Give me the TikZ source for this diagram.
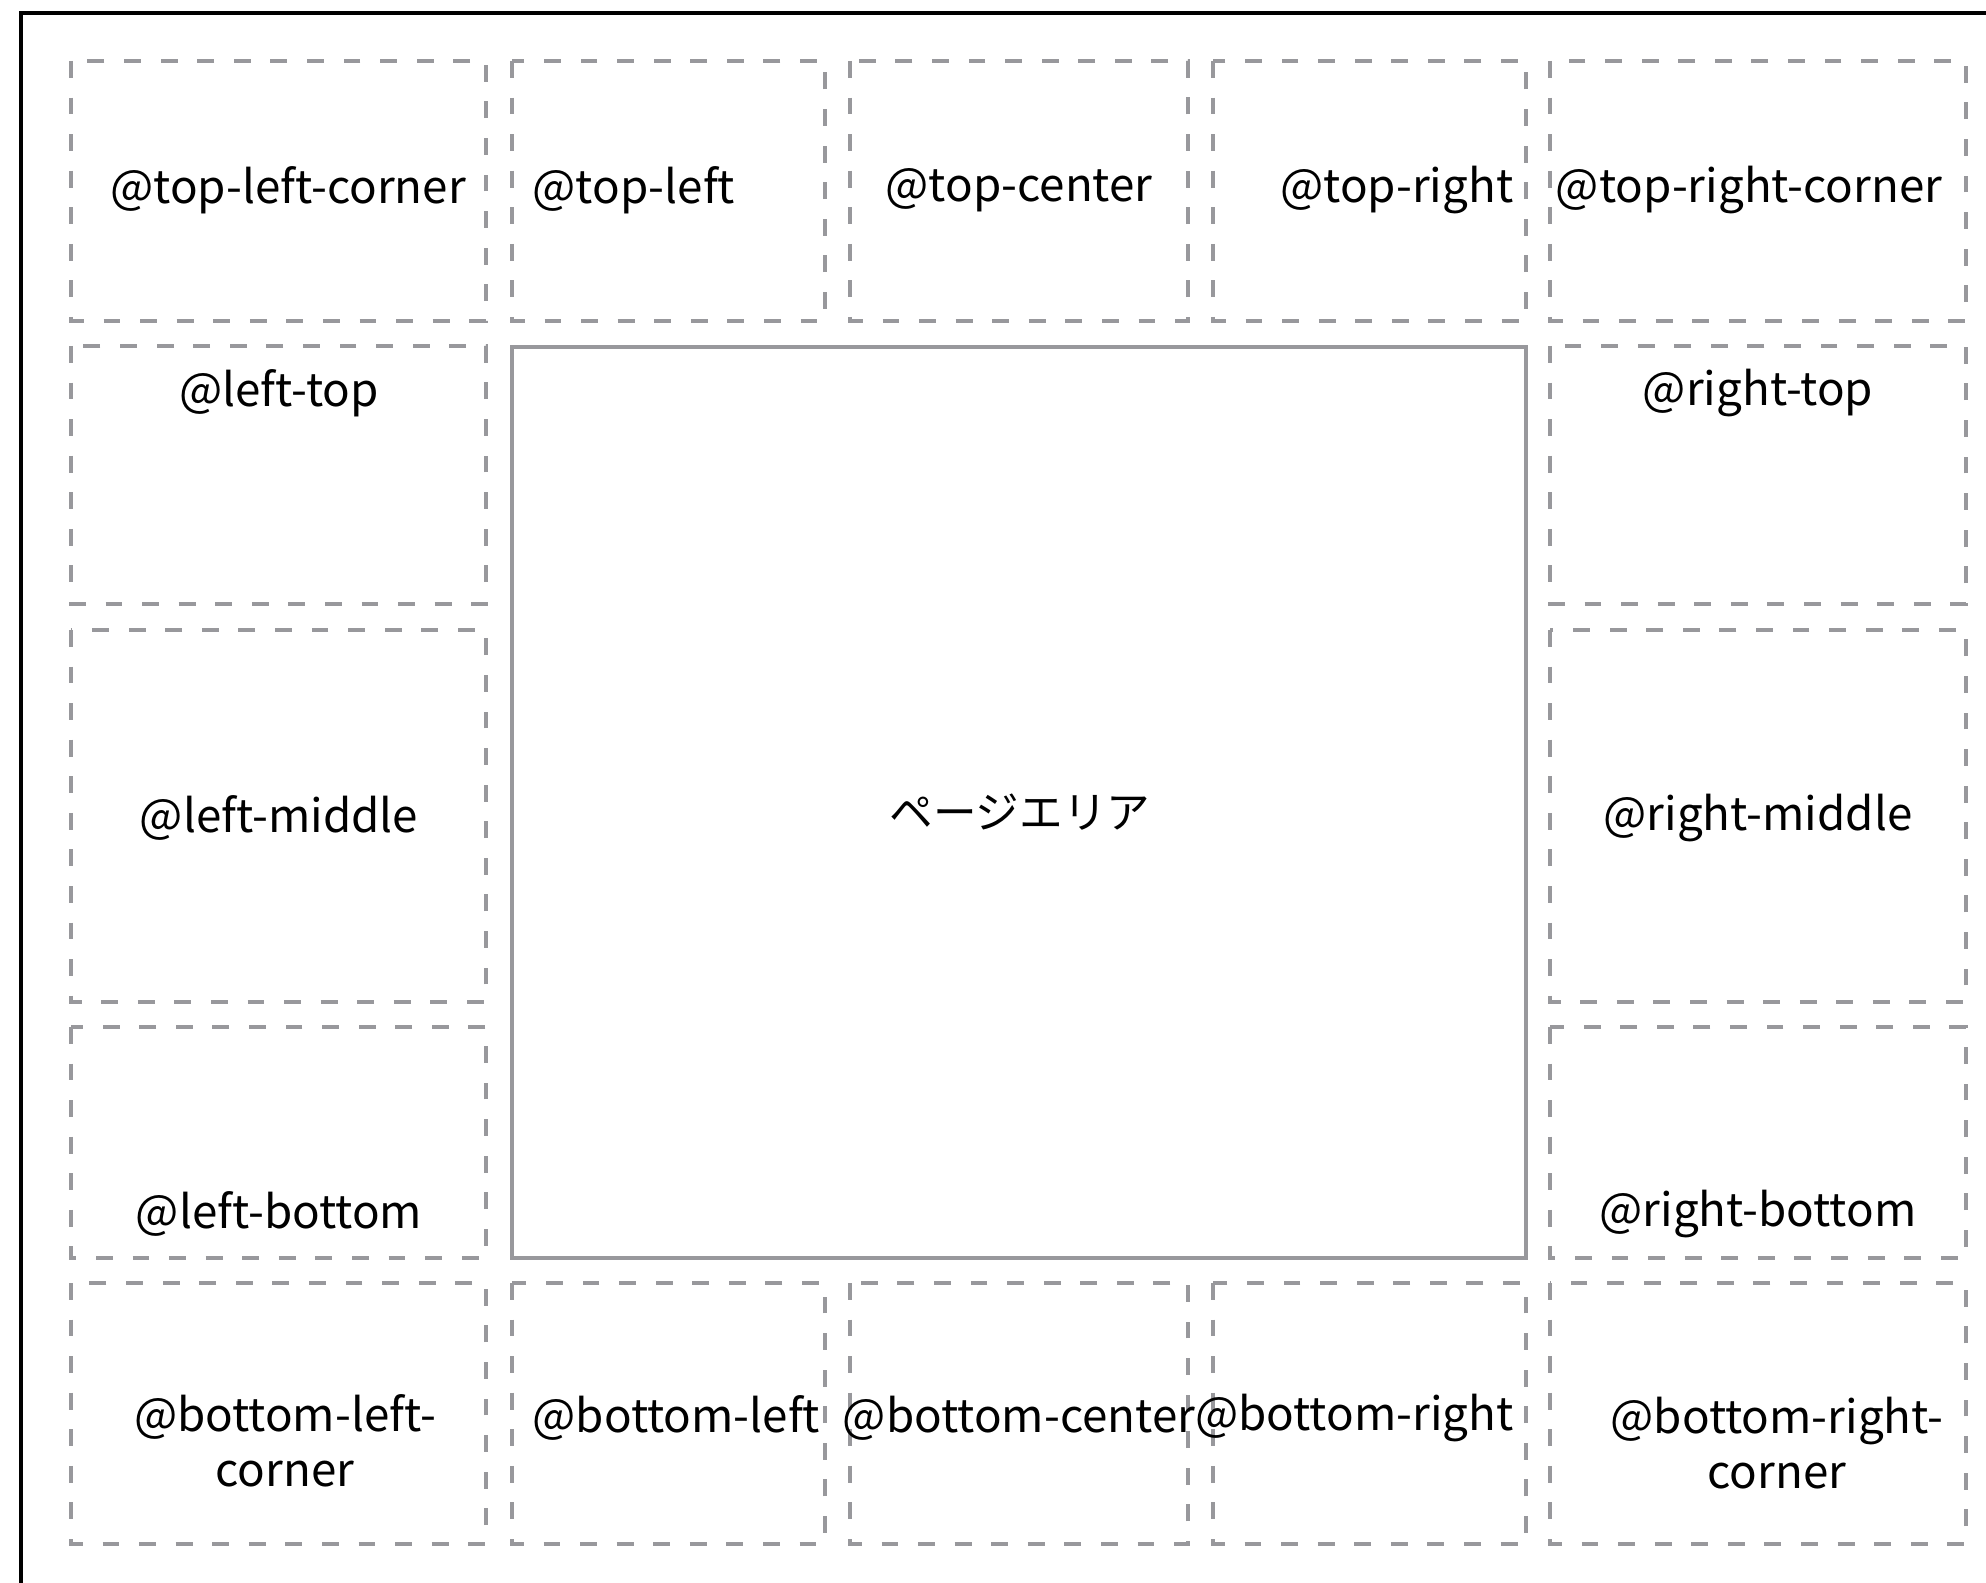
\documentclass[tikz,border=0pt]{standalone}
\usepackage{fontspec}
\setmainfont{Noto Sans CJK JP}
\definecolor{slotgray}{HTML}{98989C}

\begin{document}
\begin{tikzpicture}[x=0.01cm,y=-0.01cm,
    slot/.style={draw=slotgray,line width=1.2pt,dash pattern=on 4.8pt off 5.6pt},
    pagebox/.style={draw=slotgray,line width=1.2pt},
    slottext/.style={font=\fontsize{13}{15.6}\selectfont,inner sep=0pt,align=center}]
  \useasboundingbox (0,0) rectangle (1986,1583);
  \clip (0,0) rectangle (1986,1583);
  % outer page edge
  \draw[line width=1.15pt] (21,13) rectangle (2100,1700);
  % margin boxes, top row
  \draw[slot] (71,61) rectangle (486,321);
  \draw[slot] (512,61) rectangle (825,321);
  \draw[slot] (850,61) rectangle (1188,321);
  \draw[slot] (1213,61) rectangle (1526,321);
  \draw[slot] (1550,61) rectangle (1966,321);
  % left and right columns
  \draw[slot] (71,346) rectangle (486,604);
  \draw[slot] (71,630) rectangle (486,1002);
  \draw[slot] (71,1027) rectangle (486,1258);
  \draw[slot] (1550,346) rectangle (1966,604);
  \draw[slot] (1550,630) rectangle (1966,1002);
  \draw[slot] (1550,1027) rectangle (1966,1258);
  % bottom row
  \draw[slot] (71,1283) rectangle (486,1544);
  \draw[slot] (512,1283) rectangle (825,1544);
  \draw[slot] (850,1283) rectangle (1188,1544);
  \draw[slot] (1213,1283) rectangle (1526,1544);
  \draw[slot] (1550,1283) rectangle (1966,1544);
  % page area
  \draw[pagebox] (512,347) rectangle (1526,1258);
  \node[slottext,font=\fontsize{12.4}{15}\selectfont] (pagearea) at (1020,812) {ページエリア};

  \node[slottext] (tlc) at (288,190) {@top-left-corner};
  \node[slottext,anchor=west] (tl) at (532,190) {@top-left};
  \node[slottext] (tc) at (1019,190) {@top-center};
  \node[slottext,anchor=east] (tr) at (1514,190) {@top-right};
  \node[slottext] (trc) at (1749,190) {@top-right-corner};

  \node[slottext] (lt) at (279,393) {@left-top};
  \node[slottext] (lm) at (279,818) {@left-middle};
  \node[slottext] (lb) at (279,1214) {@left-bottom};
  \node[slottext] (rt) at (1758,393) {@right-top};
  \node[slottext] (rm) at (1758,818) {@right-middle};
  \node[slottext] (rb) at (1758,1214) {@right-bottom};

  \node[slottext] (blc) at (285,1441) {@bottom-left-\\corner};
  \node[slottext,anchor=west] (bl) at (532,1418) {@bottom-left};
  \node[slottext] (bc) at (1019,1418) {@bottom-center};
  \node[slottext,anchor=east] (br) at (1514,1418) {@bottom-right};
  \node[slottext] (brc) at (1777,1443) {@bottom-right-\\corner};
\end{tikzpicture}
\end{document}
